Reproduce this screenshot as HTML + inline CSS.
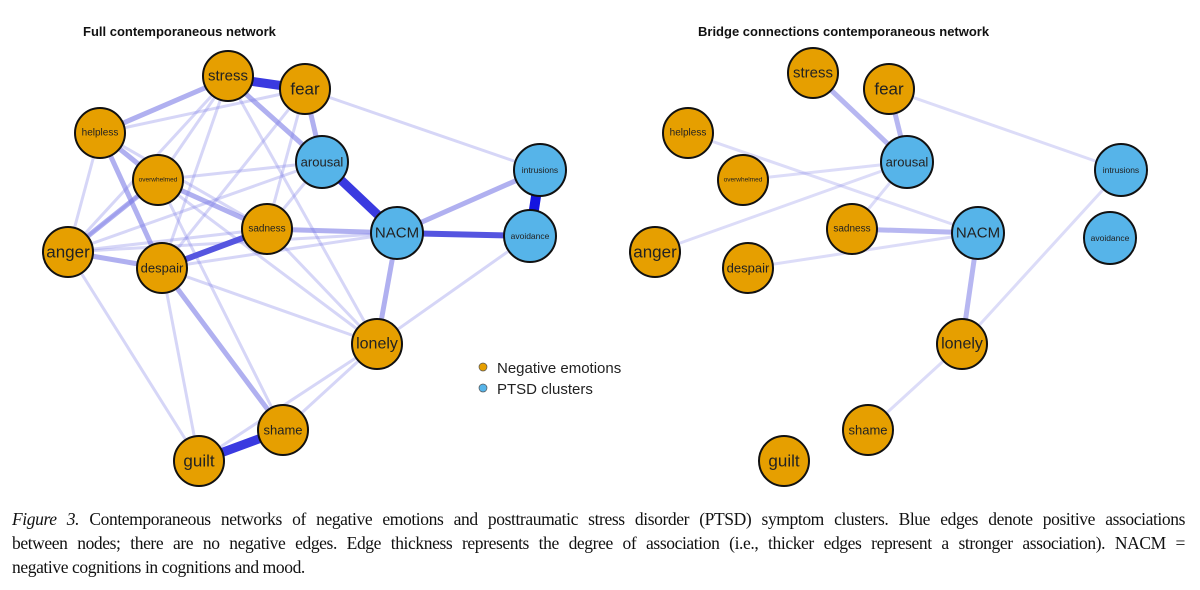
<!DOCTYPE html>
<html><head><style>
body{margin:0;background:#fff;width:1200px;height:590px;overflow:hidden}
svg text{font-family:"Liberation Sans",sans-serif}
.cap{position:absolute;left:12px;top:507px;width:1173px;font-family:"Liberation Serif",serif;font-size:17.5px;line-height:24px;color:#111;letter-spacing:-0.4px}
.cap div{white-space:nowrap}
.j{text-align:justify;text-align-last:justify}
</style></head><body>
<svg width="1200" height="590" style="position:absolute;left:0;top:0">
<g fill="none" stroke-linecap="round">
<g stroke="#8a8ae8" stroke-opacity="0.35" stroke-width="3">
<line x1="228" y1="78" x2="158" y2="180"/><line x1="228" y1="78" x2="68" y2="252"/><line x1="228" y1="78" x2="162" y2="268"/>
<line x1="228" y1="78" x2="377" y2="344"/><line x1="305" y1="89" x2="100" y2="133"/><line x1="305" y1="89" x2="162" y2="268"/>
<line x1="305" y1="89" x2="267" y2="229"/><line x1="305" y1="89" x2="540" y2="170"/><line x1="100" y1="133" x2="267" y2="229"/>
<line x1="100" y1="133" x2="68" y2="252"/><line x1="158" y1="180" x2="322" y2="162"/><line x1="158" y1="180" x2="377" y2="344"/>
<line x1="68" y1="252" x2="322" y2="162"/><line x1="68" y1="252" x2="397" y2="233"/><line x1="68" y1="252" x2="199" y2="461"/>
<line x1="162" y1="268" x2="397" y2="233"/><line x1="162" y1="268" x2="377" y2="344"/><line x1="162" y1="268" x2="199" y2="461"/>
<line x1="158" y1="180" x2="283" y2="430"/><line x1="267" y1="229" x2="377" y2="344"/><line x1="377" y1="344" x2="199" y2="461"/>
<line x1="377" y1="344" x2="283" y2="430"/><line x1="377" y1="344" x2="530" y2="236"/><line x1="267" y1="229" x2="322" y2="162"/>
<line x1="68" y1="252" x2="267" y2="229"/><line x1="158" y1="180" x2="68" y2="252"/>
</g>
<g stroke="#7c7ce6" stroke-opacity="0.6" stroke-width="5">
<line x1="228" y1="78" x2="100" y2="133"/><line x1="100" y1="133" x2="162" y2="268"/><line x1="100" y1="133" x2="158" y2="180"/>
<line x1="158" y1="180" x2="267" y2="229"/><line x1="68" y1="252" x2="162" y2="268"/><line x1="68" y1="252" x2="158" y2="180"/>
<line x1="267" y1="229" x2="397" y2="233"/><line x1="397" y1="233" x2="540" y2="170"/><line x1="397" y1="233" x2="377" y2="344"/>
<line x1="228" y1="78" x2="322" y2="162"/><line x1="305" y1="89" x2="322" y2="162"/><line x1="162" y1="268" x2="283" y2="430"/>
</g>
<g stroke="#5555e0" stroke-width="6">
<line x1="162" y1="268" x2="267" y2="229"/><line x1="397" y1="233" x2="530" y2="236"/>
</g>
<g stroke="#3a3ae0" stroke-width="9">
<line x1="228" y1="78" x2="305" y2="89"/><line x1="322" y1="162" x2="397" y2="233"/><line x1="199" y1="461" x2="283" y2="430"/>
</g>
<line x1="540" y1="170" x2="530" y2="236" stroke="#1515e0" stroke-width="10"/>
<g stroke="#8a8ae8" stroke-opacity="0.3" stroke-width="3">
<line x1="889" y1="89" x2="1121" y2="170"/><line x1="688" y1="133" x2="978" y2="233"/><line x1="743" y1="180" x2="907" y2="162"/>
<line x1="655" y1="252" x2="907" y2="162"/><line x1="748" y1="268" x2="978" y2="233"/><line x1="852" y1="229" x2="907" y2="162"/>
<line x1="868" y1="430" x2="962" y2="344"/><line x1="962" y1="344" x2="1121" y2="170"/>
</g>
<g stroke="#7c7ce6" stroke-opacity="0.55" stroke-width="5">
<line x1="813" y1="73" x2="907" y2="162"/><line x1="889" y1="89" x2="907" y2="162"/><line x1="978" y1="233" x2="962" y2="344"/>
<line x1="852" y1="229" x2="978" y2="233"/>
</g>
</g>
<g stroke="#111" stroke-width="2">
<g fill="#e69f00">
<circle cx="228" cy="76" r="25"/><circle cx="305" cy="89" r="25"/><circle cx="100" cy="133" r="25"/><circle cx="158" cy="180" r="25"/>
<circle cx="267" cy="229" r="25"/><circle cx="68" cy="252" r="25"/><circle cx="162" cy="268" r="25"/><circle cx="377" cy="344" r="25"/>
<circle cx="283" cy="430" r="25"/><circle cx="199" cy="461" r="25"/>
<circle cx="813" cy="73" r="25"/><circle cx="889" cy="89" r="25"/><circle cx="688" cy="133" r="25"/><circle cx="743" cy="180" r="25"/>
<circle cx="852" cy="229" r="25"/><circle cx="655" cy="252" r="25"/><circle cx="748" cy="268" r="25"/><circle cx="962" cy="344" r="25"/>
<circle cx="868" cy="430" r="25"/><circle cx="784" cy="461" r="25"/>
</g>
<g fill="#56b4e9">
<circle cx="322" cy="162" r="26"/><circle cx="540" cy="170" r="26"/><circle cx="397" cy="233" r="26"/><circle cx="530" cy="236" r="26"/>
<circle cx="907" cy="162" r="26"/><circle cx="1121" cy="170" r="26"/><circle cx="978" cy="233" r="26"/><circle cx="1110" cy="238" r="26"/>
</g>
</g>
<g fill="#222" text-anchor="middle" dominant-baseline="central">
<text x="228" y="76" font-size="15">stress</text><text x="305" y="89" font-size="17">fear</text><text x="100" y="133" font-size="10">helpless</text>
<text x="158" y="180" font-size="6.5">overwhelmed</text><text x="267" y="229" font-size="10">sadness</text><text x="68" y="252" font-size="17">anger</text>
<text x="162" y="268" font-size="13">despair</text><text x="377" y="344" font-size="16">lonely</text><text x="283" y="430" font-size="13">shame</text>
<text x="199" y="461" font-size="17">guilt</text><text x="322" y="162" font-size="13">arousal</text><text x="540" y="170" font-size="8.5">intrusions</text>
<text x="397" y="233" font-size="15">NACM</text><text x="530" y="236" font-size="8.5">avoidance</text>
<text x="813" y="73" font-size="15">stress</text><text x="889" y="89" font-size="17">fear</text><text x="688" y="133" font-size="10">helpless</text>
<text x="743" y="180" font-size="6.5">overwhelmed</text><text x="852" y="229" font-size="10">sadness</text><text x="655" y="252" font-size="17">anger</text>
<text x="748" y="268" font-size="13">despair</text><text x="962" y="344" font-size="16">lonely</text><text x="868" y="430" font-size="13">shame</text>
<text x="784" y="461" font-size="17">guilt</text><text x="907" y="162" font-size="13">arousal</text><text x="1121" y="170" font-size="8.5">intrusions</text>
<text x="978" y="233" font-size="15">NACM</text><text x="1110" y="238" font-size="8.5">avoidance</text>
</g>
<text x="83" y="36" font-size="13" font-weight="bold" fill="#111">Full contemporaneous network</text>
<text x="698" y="36" font-size="13" font-weight="bold" fill="#111">Bridge connections contemporaneous network</text>
<circle cx="483" cy="367" r="4" fill="#e69f00" stroke="#555" stroke-width="0.7"/>
<circle cx="483" cy="388" r="4" fill="#56b4e9" stroke="#555" stroke-width="0.7"/>
<text x="497" y="373" font-size="15" fill="#222">Negative emotions</text>
<text x="497" y="394" font-size="15" fill="#222">PTSD clusters</text>
</svg>
<div class="cap">
<div class="j"><i>Figure 3.</i> Contemporaneous networks of negative emotions and posttraumatic stress disorder (PTSD) symptom clusters. Blue edges denote positive associations</div>
<div class="j">between nodes; there are no negative edges. Edge thickness represents the degree of association (i.e., thicker edges represent a stronger association). NACM =</div>
<div>negative cognitions in cognitions and mood.</div>
</div>
</body></html>
